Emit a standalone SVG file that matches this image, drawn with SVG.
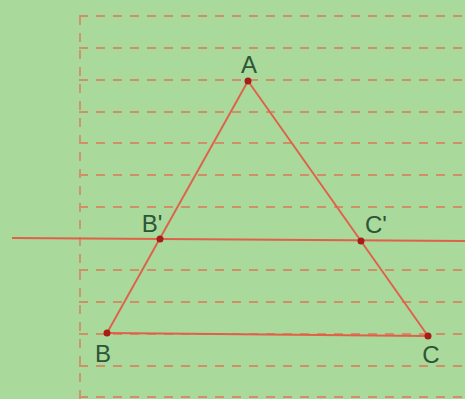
<svg xmlns="http://www.w3.org/2000/svg" width="465" height="399" viewBox="0 0 465 399">
<style>
.grid{stroke:#cf9068;stroke-width:1.8;stroke-dasharray:9 8;fill:none}
.red{stroke:#e0604a;stroke-width:1.9;fill:none}
.pt{fill:#a81c18}
.lbl{font-family:"Liberation Sans",Arial,sans-serif;font-size:24px;fill:#2c5636;text-anchor:middle}
</style>
<rect x="0" y="0" width="465" height="399" fill="#a9d99b"/>
<g id="grid">
<line class="grid" x1="80" y1="16" x2="80" y2="399"/>
<line class="grid" x1="79" y1="16" x2="465" y2="16"/>
<line class="grid" x1="79" y1="48" x2="465" y2="48"/>
<line class="grid" x1="79" y1="80" x2="465" y2="80"/>
<line class="grid" x1="79" y1="112" x2="465" y2="112"/>
<line class="grid" x1="79" y1="143" x2="465" y2="143"/>
<line class="grid" x1="79" y1="175" x2="465" y2="175"/>
<line class="grid" x1="79" y1="207" x2="465" y2="207"/>
<line class="grid" x1="79" y1="270" x2="465" y2="270"/>
<line class="grid" x1="79" y1="302" x2="465" y2="302"/>
<line class="grid" x1="79" y1="334" x2="465" y2="334"/>
<line class="grid" x1="79" y1="366" x2="465" y2="366"/>
<line class="grid" x1="79" y1="397" x2="465" y2="397"/>
</g>
<g id="connectors">
<line class="red" x1="12" y1="238" x2="465" y2="241"/>
<line class="red" x1="248" y1="81" x2="107" y2="333"/>
<line class="red" x1="248" y1="81" x2="428" y2="336"/>
<line class="red" x1="107" y1="333" x2="428" y2="336"/>
</g>
<g id="A"><circle class="pt" cx="248" cy="81" r="3.5"/><text class="lbl" x="249" y="73">A</text></g>
<g id="B"><circle class="pt" cx="107" cy="333" r="3.5"/><text class="lbl" x="103" y="362">B</text></g>
<g id="C"><circle class="pt" cx="428" cy="336" r="3.5"/><text class="lbl" x="431" y="363">C</text></g>
<g id="B1"><circle class="pt" cx="160" cy="239" r="3.5"/><text class="lbl" x="152" y="232">B'</text></g>
<g id="C1"><circle class="pt" cx="361" cy="241" r="3.5"/><text class="lbl" x="376" y="233">C'</text></g>
</svg>
